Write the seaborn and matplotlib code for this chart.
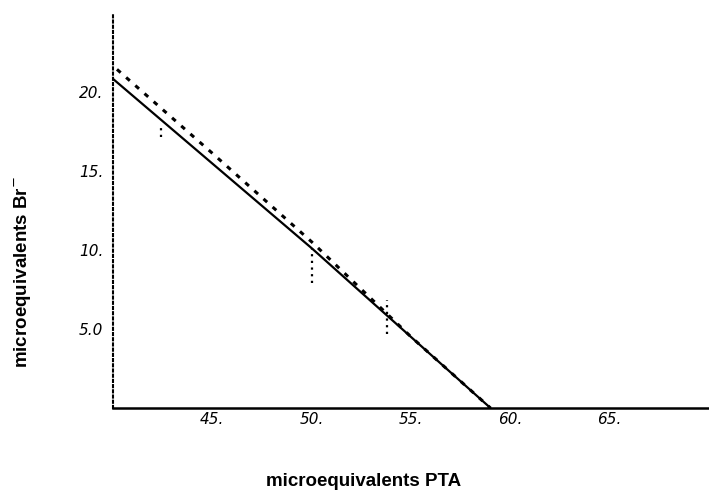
import matplotlib
matplotlib.use("Agg")
import matplotlib.pyplot as plt
import seaborn as sns
import pandas as pd

# ---- data ----
solid_x = [40.0, 50.0, 59.0]
solid_y = [20.8, 10.1, 0.0]

dotted_x = [40.2, 45.0, 50.0, 55.0, 59.0]
dotted_y = [21.4, 16.1, 10.5, 4.5, 0.0]

err_x = [42.4, 50.0, 53.8]
err_lo = [17.1, 7.9, 4.7]
err_hi = [17.9, 10.1, 6.8]

x_ticks = [45, 50, 55, 60, 65]
x_tick_labels = ["45.", "50.", "55.", "60.", "65."]
y_ticks = [5, 10, 15, 20]
y_tick_labels = ["5.0", "10.", "15.", "20."]

x_label = "microequivalents PTA"
y_label = "microequivalents Br$^{-}$"

sns.set_style("white")
plt.rcParams["font.family"] = ["Liberation Sans", "DejaVu Sans"]
plt.rcParams["text.color"] = "black"
plt.rcParams["axes.labelcolor"] = "black"

fig = plt.figure(figsize=(7.09, 4.90), dpi=100)
ax = fig.add_axes([113 / 709, 82 / 490, 596 / 709, 394 / 490])

df_solid = pd.DataFrame({"x": solid_x, "y": solid_y})
df_dot = pd.DataFrame({"x": dotted_x, "y": dotted_y})

sns.lineplot(data=df_solid, x="x", y="y", ax=ax, color="black", lw=1.6,
             sort=False, estimator=None)
sns.lineplot(data=df_dot, x="x", y="y", ax=ax, color="black", lw=2.2,
             sort=False, estimator=None)
ax.lines[-1].set_linestyle((0, (1.6, 2.4)))

ax.vlines(err_x, err_lo, err_hi, colors="black", linestyles=(0, (1, 2)), lw=1.6)

ax.set_xlim(40, 70)
ax.set_ylim(0, 24.9)

ax.set_xticks(x_ticks)
ax.set_xticklabels(x_tick_labels, fontstyle="italic", family="DejaVu Sans", fontsize=11)
ax.set_yticks(y_ticks)
ax.set_yticklabels(y_tick_labels, fontstyle="italic", family="DejaVu Sans", fontsize=11)

ax.tick_params(axis="x", direction="in", length=6, width=1.5, pad=3,
               colors="black", labelcolor="black")
ax.tick_params(axis="y", direction="inout", length=12, width=1.2, pad=1,
               colors="black", labelcolor="black")

for s in ["top", "right"]:
    ax.spines[s].set_visible(False)
ax.spines["bottom"].set_linewidth(1.8)
ax.spines["bottom"].set_color("black")
ax.spines["left"].set_linewidth(1.5)
ax.spines["left"].set_color("black")
ax.spines["left"].set_linestyle((0, (1, 1.5)))

ax.set_xlabel(x_label, fontsize=13.5, fontweight="bold", color="black")
ax.set_ylabel(y_label, fontsize=13.5, fontweight="bold", color="black")
ax.xaxis.label.set_va("center")
ax.yaxis.label.set_va("center")
ax.xaxis.set_label_coords((364 - 113) / 596, (408 - 481) / 394)
ax.yaxis.set_label_coords((23 - 113) / 596, (408 - 272) / 394)

fig.savefig("out.png", dpi=100, facecolor="white")
